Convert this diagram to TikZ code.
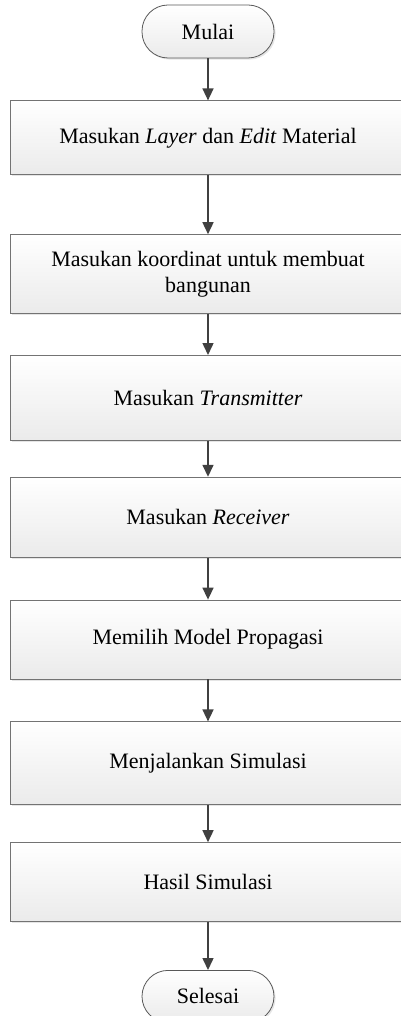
\documentclass[tikz,border=0pt]{standalone}
\usepackage{fontspec}
\setmainfont{Liberation Serif}
\usetikzlibrary{positioning,shadows,arrows.meta}
\tikzset{
  terminal/.style={draw=black!65, top color=white, bottom color=black!8, rounded corners=13pt,
    minimum width=66pt, minimum height=26.5pt, drop shadow={shadow xshift=0.8pt, shadow yshift=-0.8pt, fill=black!20}},
  process/.style={draw=black!55, top color=white, bottom color=black!8,
    minimum width=198pt, align=center, drop shadow={shadow xshift=0.8pt, shadow yshift=-0.8pt, fill=black!20}},
  flow/.style={draw=black!75, line width=0.75pt, -{Triangle[length=6pt,width=5.5pt]}},
}

\begin{document}
\begin{tikzpicture}
      [every node/.style={font=\fontsize{11}{13}\selectfont}]
      \useasboundingbox (0,0) rectangle (200.5pt,-508pt);
      \clip (0,0) rectangle (200.5pt,-508pt);
      \node (mulai) [terminal] at (104pt,-15.75pt) {Mulai};
      \node (layer) [process, below=21pt of mulai, minimum height=37pt] {Masukan \textit{Layer} dan \textit{Edit} Material};
      \node (koordinat) [process, below=29.5pt of layer, minimum height=39.5pt] {Masukan koordinat untuk membuat\\bangunan};
      \node (transmitter) [process, below=20.5pt of koordinat, minimum height=42.5pt] {Masukan \textit{Transmitter}};
      \node (receiver) [process, below=18pt of transmitter, minimum height=40pt] {Masukan \textit{Receiver}};
      \node (propagasi) [process, below=21pt of receiver, minimum height=39.5pt] {Memilih Model Propagasi};
      \node (simulasi) [process, below=21pt of propagasi, minimum height=41.5pt] {Menjalankan Simulasi};
      \node (hasil) [process, below=18.5pt of simulasi, minimum height=39.5pt] {Hasil Simulasi};
      \node (selesai) [terminal, below=24pt of hasil, minimum height=26pt] {Selesai};
      \draw [flow] (mulai) -- (layer);
      \draw [flow] (layer) -- (koordinat);
      \draw [flow] (koordinat) -- (transmitter);
      \draw [flow] (transmitter) -- (receiver);
      \draw [flow] (receiver) -- (propagasi);
      \draw [flow] (propagasi) -- (simulasi);
      \draw [flow] (simulasi) -- (hasil);
      \draw [flow] (hasil) -- (selesai);
    \end{tikzpicture}
\end{document}
